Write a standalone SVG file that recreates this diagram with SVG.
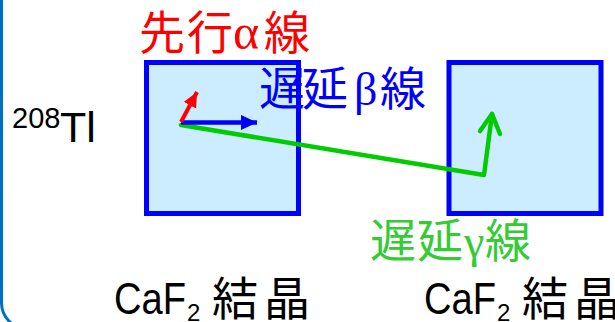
<svg xmlns="http://www.w3.org/2000/svg" width="615" height="322" viewBox="0 0 615 322">
<style>
.box{fill:#CCECFF;stroke:#0000FF;stroke-width:5}
.cjk{font-family:"Noto Sans CJK JP","Noto Sans",sans-serif;font-size:46px}
.lat{font-family:"Liberation Sans",Arial,sans-serif}
.grk{font-family:"Liberation Serif","Times New Roman",serif}
</style>
<defs>
<marker id="hBlue" markerUnits="userSpaceOnUse" markerWidth="18" markerHeight="16" refX="16" refY="7.5" orient="auto">
<path d="M0,0 L16,7.5 L0,15 Z" fill="#0000FF"/>
</marker>
<marker id="hRed" markerUnits="userSpaceOnUse" markerWidth="18" markerHeight="16" refX="15" refY="7" orient="auto">
<path d="M0,0 L15,7 L0,14 Z" fill="#FF0000"/>
</marker>
</defs>
<rect x="1.5" y="-40" width="700" height="368.5" rx="25.5" fill="none" stroke="#0070C0" stroke-width="3"/>
<g id="crystal1"><rect class="box" x="146.5" y="62.5" width="152" height="151"/></g>
<g id="crystal2"><rect class="box" x="449" y="62.5" width="152" height="151"/></g>
<g id="connectors" fill="none" stroke-linecap="round" stroke-linejoin="round">
<polyline points="181,125 484,175 492,114" stroke="#00CC00" stroke-width="4.5"/>
<polyline points="480,131 492,114 500,134" stroke="#00CC00" stroke-width="4.5"/>
<line x1="181" y1="122.5" x2="257" y2="122.5" stroke="#0000FF" stroke-width="4.3" stroke-linecap="butt" marker-end="url(#hBlue)"/>
<line x1="181" y1="122" x2="197" y2="92" stroke="#FF0000" stroke-width="4" stroke-linecap="butt" marker-end="url(#hRed)"/>
</g>
<g id="tl208" class="lat" fill="#000">
<text x="12" y="128" font-size="29">208</text>
<text x="60" y="142" font-size="43">Tl</text>
</g>
<g id="alphaLabel" fill="#FF0000">
<text class="cjk" y="49"><tspan x="139">先</tspan><tspan x="187">行</tspan><tspan class="grk" x="233" font-size="50">α</tspan><tspan x="264">線</tspan></text>
</g>
<g id="betaLabel" fill="#0000FF">
<text class="cjk" y="105"><tspan x="259">遅</tspan><tspan x="302">延</tspan><tspan class="grk" x="354" font-size="46">β</tspan><tspan x="380">線</tspan></text>
</g>
<g id="gammaLabel" fill="#33CC33">
<text class="cjk" y="257"><tspan x="370">遅</tspan><tspan x="417">延</tspan><tspan class="grk" x="464" font-size="46">γ</tspan><tspan x="485">線</tspan></text>
</g>
<g id="caf1" fill="#000">
<text class="lat" x="114" y="314" font-size="44" textLength="72" lengthAdjust="spacingAndGlyphs">CaF</text>
<text class="lat" x="187" y="321" font-size="24">2</text>
<text class="cjk" y="315"><tspan x="212">結</tspan><tspan x="264">晶</tspan></text>
</g>
<g id="caf2" fill="#000">
<text class="lat" x="424" y="314" font-size="44" textLength="72" lengthAdjust="spacingAndGlyphs">CaF</text>
<text class="lat" x="497" y="321" font-size="24">2</text>
<text class="cjk" y="315"><tspan x="522">結</tspan><tspan x="574">晶</tspan></text>
</g>
</svg>
